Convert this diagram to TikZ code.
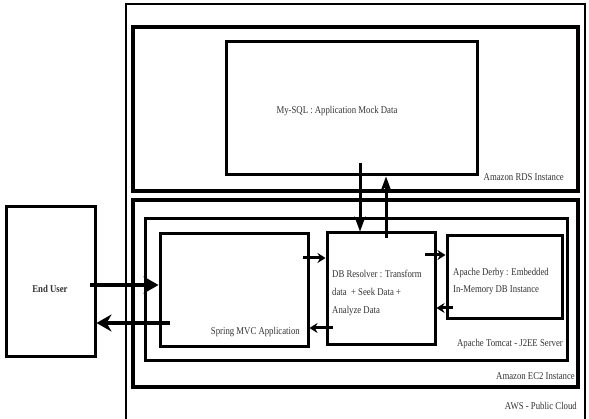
\documentclass[tikz,border=0pt]{standalone}
\usepackage{fontspec}
\setmainfont[FakeStretch=0.84]{Liberation Serif}
\usetikzlibrary{arrows.meta,fit}
\begin{document}
\begin{tikzpicture}[x=1pt,y=-1pt,
  box/.style={draw, line width=3pt, inner sep=0pt, rectangle},
  lbl/.style={inner sep=0pt, font=\fontsize{10.4}{12}\selectfont, text=black!80},
  bigarrow/.style={line width=4.5pt, -{Stealth[length=15pt,width=17pt]}},
  varrow/.style={line width=3pt, -{Stealth[length=15pt,width=11pt]}},
  smallarrow/.style={line width=3pt, -{Stealth[length=8pt,width=10pt]}}]
\useasboundingbox (0,0) rectangle (589,419);
\fill[white] (0,0) rectangle (589,419);
% outer AWS box (bottom edge outside the picture)
\node[box, line width=2.4pt, fit={(126,4) (585,440)}] (aws) {};
\node[box, line width=3.5pt, fit={(133,27) (578,191)}] (rds) {};
\node[box, fit={(226,42) (477,175)}] (mysql) {};
\node[box, line width=3.5pt, fit={(133,200) (578,387)}] (ec2) {};
\node[box, fit={(145,219) (567,361)}] (tomcat) {};
\node[box, fit={(160,234) (308,347)}] (spring) {};
\node[box, fit={(327,233) (435,345)}] (resolver) {};
\node[box, fit={(447,236) (562,319)}] (derby) {};
\node[box, fit={(6,207) (95,357)}] (enduser) {};

% labels
\node[lbl] (tmysql) at (337,111) {My-SQL : Application Mock Data};
\node[lbl, anchor=east] (trds) at (564,177) {Amazon RDS Instance};
\node[lbl, anchor=east] (tec2) at (575,376) {Amazon EC2 Instance};
\node[lbl, anchor=east] (ttom) at (563,344) {Apache Tomcat - J2EE Server};
\node[lbl, anchor=east] (taws) at (577,406) {AWS - Public Cloud};
\node[lbl, anchor=east] (tspring) at (300,332) {Spring MVC Application};
\node[lbl, anchor=north west, align=left, font=\fontsize{10.4}{18}\selectfont] (tres) at (332,270) {DB Resolver : Transform\\data~ + Seek Data +\\Analyze Data};
\node[lbl, anchor=north west, align=left, font=\fontsize{10.4}{17}\selectfont] (tderby) at (453,268) {Apache Derby : Embedded\\In-Memory DB Instance};
\node[lbl, font=\bfseries\fontsize{10.4}{12}\selectfont] (teu) at (50,289) {End User};

% connector end points
\coordinate (a1) at (90,285);
\coordinate (a2) at (170,323);
\coordinate (a3) at (360,163);
\coordinate (a4) at (386,238);
\coordinate (a5) at (303,258);
\coordinate (a6) at (333,328);
\coordinate (a7) at (425,255);
\coordinate (a8) at (453,308);

\draw[bigarrow] (a1) -- (a1 -| spring.west);
\draw[bigarrow] (a2) -- (a2 -| enduser.east);
\draw[varrow] (a3) -- (a3 |- resolver.north);
\draw[varrow] (a4) -- (a4 |- mysql.south);
\draw[smallarrow] (a5) -- (a5 -| resolver.west);
\draw[smallarrow] (a6) -- (a6 -| spring.east);
\draw[smallarrow] (a7) -- (a7 -| derby.west);
\draw[smallarrow] (a8) -- (a8 -| resolver.east);
\end{tikzpicture}
\end{document}
